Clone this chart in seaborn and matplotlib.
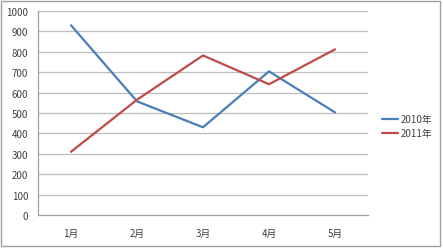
import matplotlib
matplotlib.use("Agg")
import matplotlib.pyplot as plt
import seaborn as sns
import pandas as pd
from matplotlib.patches import Rectangle

months = ["1月", "2月", "3月", "4月", "5月"]
s2010 = [930, 557, 430, 704, 503]
s2011 = [310, 565, 782, 641, 812]
series_names = ["2010年", "2011年"]
yticks = list(range(0, 1001, 100))

df = pd.DataFrame({
    "month": months * 2,
    "value": s2010 + s2011,
    "series": [series_names[0]] * 5 + [series_names[1]] * 5,
})

sns.set_style("white")
plt.rcParams['font.family'] = ['Noto Sans CJK SC', 'DejaVu Sans']

fig = plt.figure(figsize=(4.43, 2.51), dpi=100)
ax = fig.add_axes([38/443, 35/251, 330/443, 204/251])

palette = {series_names[0]: "#4A7EBB", series_names[1]: "#BE4B48"}
sns.lineplot(data=df, x="month", y="value", hue="series", palette=palette,
             linewidth=1.6, ax=ax, sort=False)

ax.set_xlim(-0.5, 4.5)
ax.set_ylim(0, 1000)
ax.set_yticks(yticks)
ax.set_yticklabels([str(v) for v in yticks])
ax.set_xlabel("")
ax.set_ylabel("")
ax.grid(axis="y", color="#BDBDBD", linewidth=0.9)
ax.set_axisbelow(True)
for s in ["top", "right"]:
    ax.spines[s].set_visible(False)
ax.spines["left"].set_color("#A0A0A0")
ax.spines["bottom"].set_color("#A0A0A0")
ax.spines["left"].set_linewidth(0.9)
ax.spines["bottom"].set_linewidth(0.9)

# category tick marks between categories
ax.set_xticks([0, 1, 2, 3, 4])
ax.set_xticks([-0.5, 0.5, 1.5, 2.5, 3.5, 4.5], minor=True)
ax.tick_params(axis="x", which="major", length=0, pad=9, labelsize=7, labelcolor="#404040")
ax.tick_params(axis="x", which="minor", length=4, color="#A0A0A0", direction="out")
ax.tick_params(axis="y", which="major", length=4, color="#A0A0A0", direction="out",
               labelsize=7, labelcolor="#404040", pad=3)

leg = ax.legend(loc="center left", bbox_to_anchor=(1.03, 0.435), frameon=False,
                fontsize=7, handlelength=1.7, handletextpad=0.2, labelspacing=0.45,
                borderaxespad=0)
for t in leg.get_texts():
    t.set_color("#404040")

fig.patches.append(Rectangle((1/443, 4/251), 439/443, 245/251, transform=fig.transFigure,
                             fill=False, edgecolor="#A0A0A0", linewidth=1.0))

fig.savefig("out.png", dpi=100)
